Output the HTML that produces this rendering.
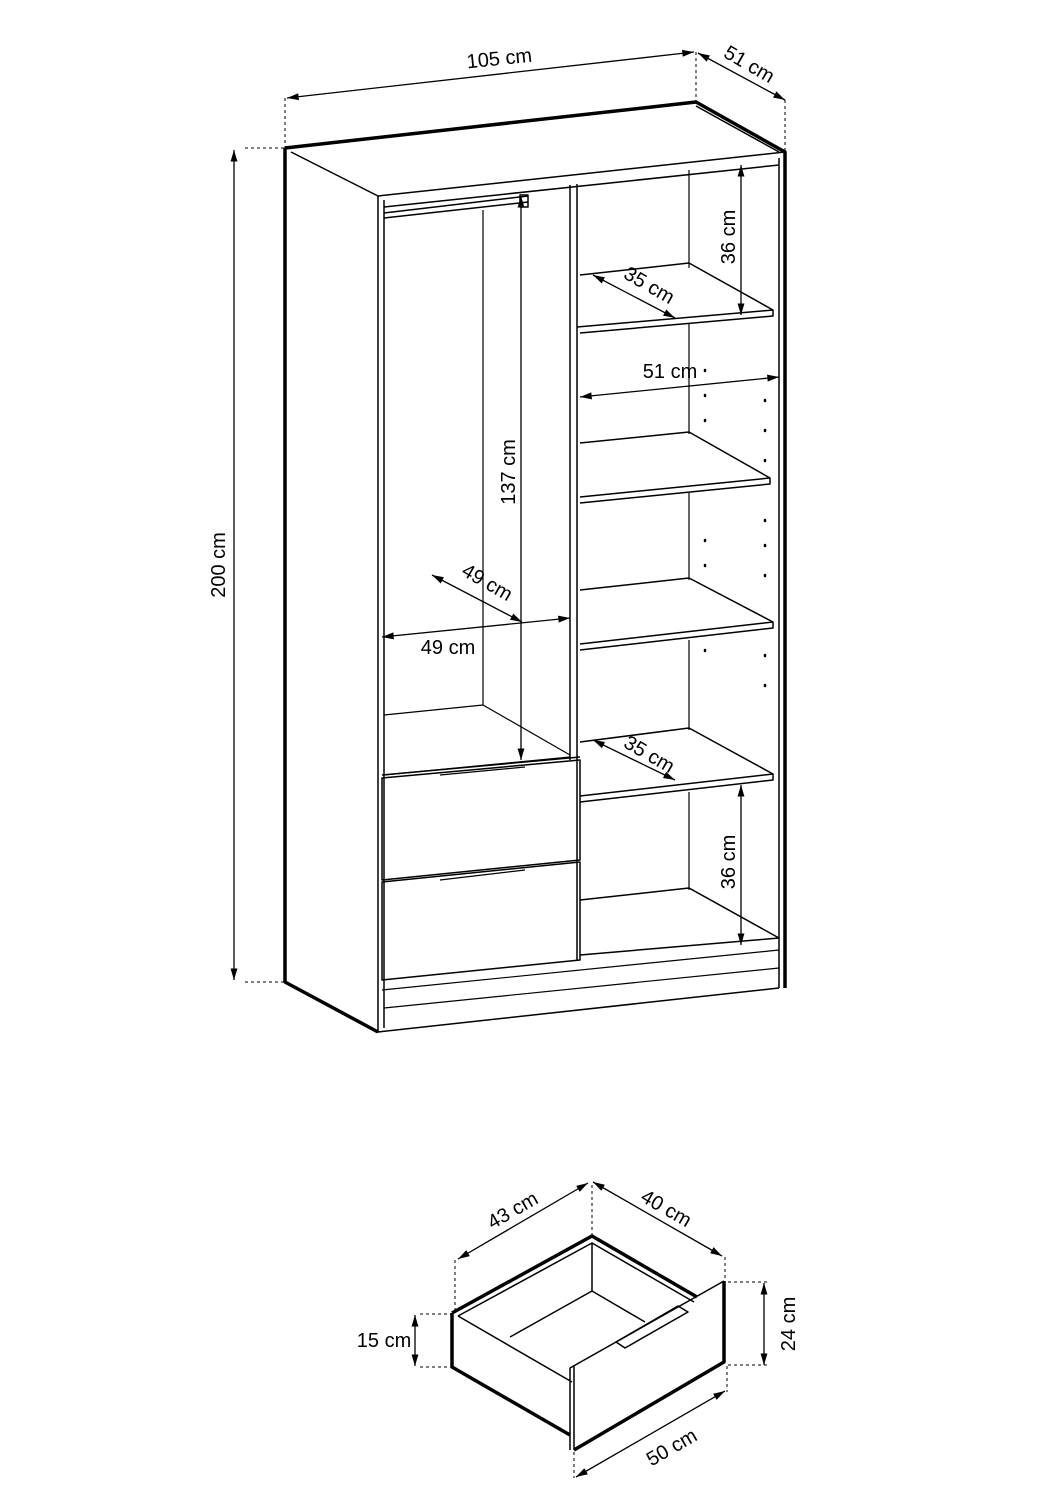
<!DOCTYPE html>
<html><head><style>
html,body{margin:0;padding:0;background:#fff}
svg{display:block}
text{font-family:"Liberation Sans",sans-serif;font-size:20px;fill:#000}
</style></head><body>
<svg width="1063" height="1503" viewBox="0 0 1063 1503" xmlns="http://www.w3.org/2000/svg">
<defs>
<marker id="a" viewBox="0 0 10 10" refX="10" refY="5" markerWidth="9" markerHeight="9" orient="auto-start-reverse"><path d="M0,2 L10,5 L0,8 z" fill="#000"/></marker>
</defs>
<g fill="none" stroke="#000" stroke-linejoin="round">
<g stroke-dasharray="3,3" stroke-width="1">
<path d="M285,98 V148 M696,52 V102 M785,100 V152 M245,148 H285 M245,982 H285"/>
<path d="M455,1260 V1310 M592,1185 V1235 M725,1257 V1280 M420,1314 H452 M420,1367 H452 M728,1282 H768 M728,1365 H768 M727,1366 V1392 M574,1452 V1478"/>
</g>
<path stroke-width="3.5" d="M285,148 L696,102 L785,152 V988 M285,148 V982 L378,1032"/>
<path stroke-width="1.5" d="M291,152 L378,196 L785,152 M696,106 L779,152"/>
<path stroke-width="1.5" d="M378,196 V1032 L779,988 M384,200 V1028 M779,158 V988"/>
<path stroke-width="1.5" d="M384,207 L779,165 M384,218 L528,202 M384,213 L528,196"/>
<path stroke-width="1.5" d="M570,185 V760 M577,184 V960"/>
<path stroke-width="1.2" d="M483,210 V705 M384,715 L483,705 L570,755 M384,775 L570,757"/>
<path stroke-width="1.5" d="M520,195 h8 v12 h-8 z"/>
<path stroke-width="1.5" d="M382,778 L580,760 V860 L382,880 Z M382,882 L580,862 V960 L382,980 Z M382,775 L580,757"/>
<path stroke-width="1.2" d="M440,775 L525,767 M440,880 L525,870 M382,990 L779,950 M384,1008 L779,968"/>
<path stroke-width="1.2" d="M689,170 V268 M689,323 V434 M689,493 V580 M689,640 V730 M689,792 V890"/>
<path stroke-width="1.5" d="M580,275 L689,263 L773,310 V316 L580,333 M577,327 L773,310"/>
<path stroke-width="1.5" d="M580,443 L689,432 L770,478 V484 L580,503 M580,497 L770,478"/>
<path stroke-width="1.5" d="M580,590 L689,578 L773,622 V628 L580,650 M580,644 L773,622"/>
<path stroke-width="1.5" d="M580,742 L689,728 L773,774 V780 L580,802 M580,796 L773,774"/>
<path stroke-width="1.5" d="M580,900 L689,888 L779,938 M580,955 L779,938"/>
<g stroke-width="1.3">
<path d="M287,98 L694,52" marker-start="url(#a)" marker-end="url(#a)"/>
<path d="M698,53 L785,100" marker-start="url(#a)" marker-end="url(#a)"/>
<path d="M234,150 V980" marker-start="url(#a)" marker-end="url(#a)"/>
<path d="M521,196 V760" marker-start="url(#a)" marker-end="url(#a)"/>
<path d="M382,637 L570,618" marker-start="url(#a)" marker-end="url(#a)"/>
<path d="M432,575 L522,622" marker-start="url(#a)" marker-end="url(#a)"/>
<path d="M741,165 V315" marker-start="url(#a)" marker-end="url(#a)"/>
<path d="M593,275 L675,318" marker-start="url(#a)" marker-end="url(#a)"/>
<path d="M580,397 L779,377" marker-start="url(#a)" marker-end="url(#a)"/>
<path d="M593,740 L675,780" marker-start="url(#a)" marker-end="url(#a)"/>
<path d="M741,785 V945" marker-start="url(#a)" marker-end="url(#a)"/>
</g>
<g stroke-width="2.5" stroke-linecap="round">
<path d="M705,395 v1 M705,420 v1 M765,400 v1 M765,430 v1 M765,460 v1 M705,540 v1 M705,565 v1 M765,520 v1 M765,545 v1 M765,575 v1 M705,650 v1 M765,655 v1 M765,685 v1 M705,370 v1"/>
</g>
<!-- drawer -->
<path stroke-width="3.5" d="M452,1313 L592,1236 L697,1297 M452,1313 V1367 L570,1435 M724,1281 V1362 L574,1450"/>
<path stroke-width="1.5" d="M458,1316 L592,1243 L694,1302 M592,1243 V1291 L510,1337 M592,1291 L645,1322 M458,1316 L572,1382 M724,1281 L570,1368 V1450 M574,1366 V1450"/>
<path stroke-width="1.5" d="M616,1342 L678,1306 L688,1312 L625,1348 Z"/>
<g stroke-width="1.3">
<path d="M458,1259 L588,1183" marker-start="url(#a)" marker-end="url(#a)"/>
<path d="M593,1182 L722,1256" marker-start="url(#a)" marker-end="url(#a)"/>
<path d="M415,1315 V1366" marker-start="url(#a)" marker-end="url(#a)"/>
<path d="M764,1283 V1365" marker-start="url(#a)" marker-end="url(#a)"/>
<path d="M576,1477 L725,1391" marker-start="url(#a)" marker-end="url(#a)"/>
</g>
</g>
<text x="500" y="65" text-anchor="middle" transform="rotate(-6 500 65)">105 cm</text>
<text x="746" y="70" text-anchor="middle" transform="rotate(30 746 70)">51 cm</text>
<text x="225" y="565" text-anchor="middle" transform="rotate(-90 225 565)">200 cm</text>
<text x="515" y="472" text-anchor="middle" transform="rotate(-90 515 472)">137 cm</text>
<text x="448" y="654" text-anchor="middle">49 cm</text>
<text x="484" y="588" text-anchor="middle" transform="rotate(30 484 588)">49 cm</text>
<text x="735" y="237" text-anchor="middle" transform="rotate(-90 735 237)">36 cm</text>
<text x="646" y="291" text-anchor="middle" transform="rotate(30 646 291)">35 cm</text>
<text x="670" y="378" text-anchor="middle">51 cm</text>
<text x="646" y="760" text-anchor="middle" transform="rotate(30 646 760)">35 cm</text>
<text x="735" y="862" text-anchor="middle" transform="rotate(-90 735 862)">36 cm</text>
<text x="516" y="1216" text-anchor="middle" transform="rotate(-30 516 1216)">43 cm</text>
<text x="663" y="1214" text-anchor="middle" transform="rotate(30 663 1214)">40 cm</text>
<text x="384" y="1347" text-anchor="middle">15 cm</text>
<text x="795" y="1324" text-anchor="middle" transform="rotate(-90 795 1324)">24 cm</text>
<text x="675" y="1453" text-anchor="middle" transform="rotate(-30 675 1453)">50 cm</text>
</svg>
</body></html>
